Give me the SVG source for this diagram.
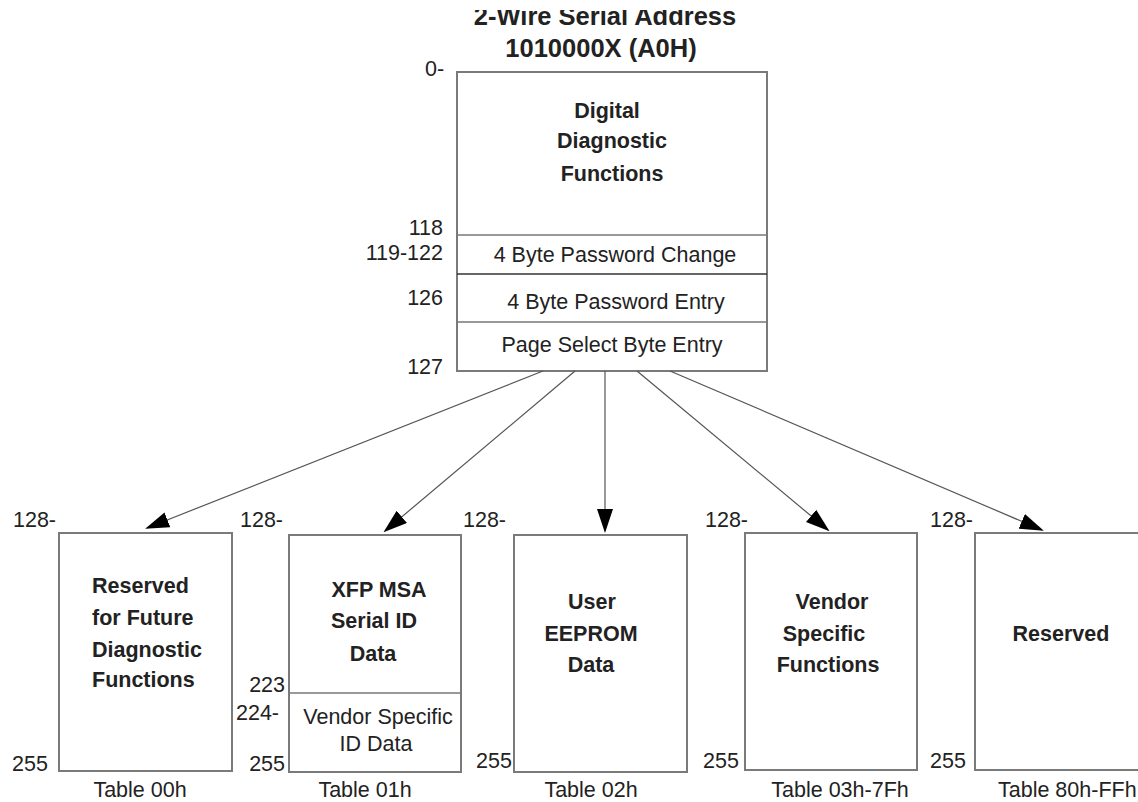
<svg xmlns="http://www.w3.org/2000/svg" width="1138" height="802" viewBox="0 0 1138 802">
<defs>
<marker id="ah" markerWidth="24" markerHeight="16" refX="22" refY="8" orient="auto" markerUnits="userSpaceOnUse">
<path d="M0,0 L24,8 L0,16 Z" fill="#000"/>
</marker>
<clipPath id="topcut"><rect x="0" y="10" width="1138" height="40"/></clipPath>
<style>
.box{fill:#fff;stroke:#7a7a7a;stroke-width:2}
.div{stroke:#777;stroke-width:1.5}
.b{font-family:"Liberation Sans",Arial,sans-serif;font-weight:bold;font-size:21.5px;fill:#222}
.r{font-family:"Liberation Sans",Arial,sans-serif;font-size:21.5px;fill:#222}
.t{font-size:25.5px}
.c{text-anchor:middle}
.e{text-anchor:end}
.conn{stroke:#555;stroke-width:1.2;fill:none;marker-end:url(#ah)}
</style>
</defs>
<rect width="1138" height="802" fill="#fff"/>
<g id="title">
<text class="b t c" x="605" y="25" clip-path="url(#topcut)">2-Wire Serial Address</text>
<text class="b t c" x="601" y="57">1010000X (A0H)</text>
</g>
<g id="main">
<rect class="box" x="457" y="72" width="310" height="299"/>
<line class="div" x1="457" y1="235" x2="767" y2="235"/>
<line x1="457" y1="274" x2="767" y2="274" stroke="#333" stroke-width="1.5"/>
<line class="div" x1="457" y1="322" x2="767" y2="322"/>
<text class="b c" x="607" y="118">Digital</text>
<text class="b c" x="612" y="148">Diagnostic</text>
<text class="b c" x="612" y="181">Functions</text>
<text class="r c" x="615" y="262">4 Byte Password Change</text>
<text class="r c" x="616" y="309">4 Byte Password Entry</text>
<text class="r c" x="612" y="352">Page Select Byte Entry</text>
<text class="r" x="425" y="76">0-</text>
<text class="r e" x="443" y="235">118</text>
<text class="r e" x="443" y="260">119-122</text>
<text class="r e" x="443" y="305">126</text>
<text class="r e" x="443" y="374">127</text>
</g>
<g id="connectors">
<line class="conn" x1="543" y1="371" x2="147" y2="528"/>
<line class="conn" x1="575" y1="371" x2="385" y2="531"/>
<line class="conn" x1="605" y1="371" x2="605" y2="531"/>
<line class="conn" x1="637" y1="371" x2="828" y2="530"/>
<line class="conn" x1="670" y1="371" x2="1042" y2="530"/>
</g>
<g id="table00">
<rect class="box" x="59" y="533" width="173" height="238"/>
<text class="b" x="92" y="593">Reserved</text>
<text class="b" x="92" y="625">for Future</text>
<text class="b" x="92" y="657">Diagnostic</text>
<text class="b" x="92" y="687">Functions</text>
<text class="r" x="13" y="527">128-</text>
<text class="r" x="12" y="771">255</text>
<text class="r c" x="140" y="797">Table 00h</text>
</g>
<g id="table01">
<rect class="box" x="289" y="535" width="172" height="237"/>
<line class="div" x1="289" y1="693" x2="461" y2="693"/>
<text class="b c" x="379" y="597">XFP MSA</text>
<text class="b c" x="374" y="628">Serial ID</text>
<text class="b c" x="373" y="661">Data</text>
<text class="r c" x="378" y="724">Vendor Specific</text>
<text class="r c" x="376" y="751">ID Data</text>
<text class="r" x="240" y="527">128-</text>
<text class="r e" x="285" y="692">223</text>
<text class="r" x="236" y="720">224-</text>
<text class="r e" x="285" y="771">255</text>
<text class="r c" x="365" y="797">Table 01h</text>
</g>
<g id="table02">
<rect class="box" x="514" y="535" width="173" height="237"/>
<text class="b c" x="592" y="609">User</text>
<text class="b c" x="591" y="641">EEPROM</text>
<text class="b c" x="591" y="672">Data</text>
<text class="r" x="463" y="527">128-</text>
<text class="r" x="476" y="768">255</text>
<text class="r c" x="591" y="797">Table 02h</text>
</g>
<g id="table03">
<rect class="box" x="745" y="533" width="172" height="237"/>
<text class="b c" x="832" y="609">Vendor</text>
<text class="b c" x="824" y="641">Specific</text>
<text class="b c" x="828" y="672">Functions</text>
<text class="r" x="705" y="527">128-</text>
<text class="r" x="703" y="768">255</text>
<text class="r c" x="840" y="797">Table 03h-7Fh</text>
</g>
<g id="table80">
<rect class="box" x="975" y="533" width="170" height="237"/>
<text class="b c" x="1061" y="641">Reserved</text>
<text class="r" x="930" y="527">128-</text>
<text class="r" x="930" y="768">255</text>
<text class="r" x="998" y="797">Table 80h-FFh</text>
</g>
</svg>
